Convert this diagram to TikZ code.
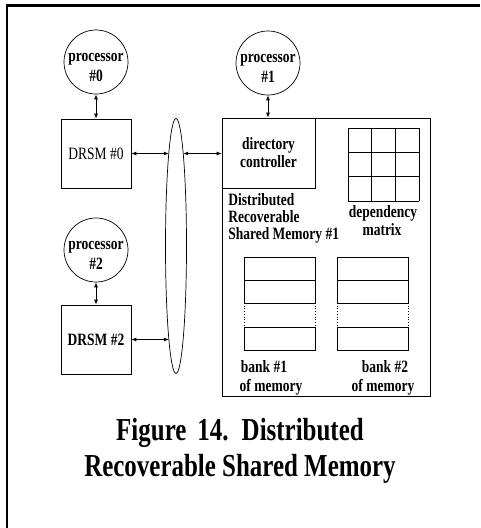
\documentclass[tikz,border=0pt]{standalone}
\usepackage{fontspec}
\setmainfont{Liberation Serif}[FakeStretch=0.78]
\usetikzlibrary{arrows.meta,shapes.geometric,intersections}
\newcommand\diagfont{\fontsize{17.3}{18}\selectfont\bfseries}
\newcommand\plainfont{\fontsize{17.3}{18}\selectfont\mdseries}
\newcommand\capfont{\fontsize{32}{36}\selectfont\bfseries}
\begin{document}
\begin{tikzpicture}[x=1pt,y=-1pt,line width=0.7pt,
  txt/.style={inner sep=0pt,font=\diagfont},
  proc/.style={circle,draw,minimum size=64pt,inner sep=0pt},
  blk/.style={rectangle,draw,inner sep=0pt,font=\diagfont},
  captxt/.style={inner sep=0pt,font=\capfont,anchor=base},
  link/.style={{Latex[length=5pt,width=4pt]}-{Latex[length=5pt,width=4pt]},line width=0.8pt}]

\useasboundingbox (0,0) rectangle (480,528);

% frame rules
\draw[line width=3pt] (6.3,5.5) -- (480,5.5);
\draw[line width=1.8pt] (7.2,4) -- (7.2,528);

% processors
\node[proc] (p0) at (96,62) {};
\node[proc] (p1) at (268,63) {};
\node[proc] (p2) at (96,250) {};
\node[txt,align=center] (p0t) at (96,67) {processor\\[2pt]\#0};
\node[txt,align=center] (p1t) at (268,68) {processor\\[2pt]\#1};
\node[txt,align=center] (p2t) at (96,255) {processor\\[2pt]\#2};

% DRSM units
\node[blk,minimum width=70pt,minimum height=69pt,font=\plainfont] (drsm0) at (96,153.5) {DRSM \#0};
\node[blk,minimum width=70pt,minimum height=69pt] (drsm2) at (96,339.5) {DRSM \#2};

% interconnect
\node[ellipse,draw,minimum width=21pt,minimum height=255pt,inner sep=0pt,name path=busp] (bus) at (176,246) {};

% DRSM #1 in detail
\node[blk,minimum width=208pt,minimum height=278pt] (mem1) at (326,257) {};
\node[blk,minimum width=93pt,minimum height=70pt,align=center] (dir) at (268.5,153) {directory\\controller};

% dependency matrix
\foreach \i in {0,1,2,3} {
  \draw ({348+\i*23.667},128) -- ++(0,73);
  \draw (348,{128+\i*24.333}) -- ++(71,0);
}
\node[txt,anchor=base] (m1) at (383,217) {dependency};
\node[txt,anchor=base] (m2) at (382,235) {matrix};

\node[txt,anchor=base west] (d1) at (228,205) {Distributed};
\node[txt,anchor=base west] (d2) at (228,222) {Recoverable};
\node[txt,anchor=base west] (d3) at (228,239) {Shared Memory \#1};

% memory banks
\foreach \x in {244,337} {
  \draw (\x,257) rectangle ++(71,46);
  \draw (\x,280) -- ++(71,0);
  \draw[dotted] (\x,303) -- ++(0,24) ({\x+71},303) -- ++(0,24);
  \draw (\x,327) rectangle ++(71,23);
}
\node[txt,anchor=base] (bk1a) at (264,372) {bank \#1};
\node[txt,anchor=base] (bk1b) at (271,391) {of memory};
\node[txt,anchor=base] (bk2a) at (385,372) {bank \#2};
\node[txt,anchor=base] (bk2b) at (383,391) {of memory};

% connectors
\draw[link] (p0) -- (drsm0);
\draw[link] (p2) -- (drsm2);
\draw[link] (p1.south) -- (p1.south |- mem1.north);

\path[name path=row0] (drsm0.east) -- (mem1.west |- drsm0.east);
\path[name intersections={of=busp and row0,by={b0l,b0r},sort by=row0}];
\draw[link] (drsm0.east) -- (b0l);
\draw[link] (b0r) -- (mem1.west |- drsm0.east);

\path[name path=row2] (drsm2.east) -- (mem1.west |- drsm2.east);
\path[name intersections={of=busp and row2,by={b2l,b2r},sort by=row2}];
\draw[link] (drsm2.east) -- (b2l);

% caption
\node[captxt] (cap1) at (240,440) {\spaceskip=11pt plus 2pt Figure 14. Distributed};
\node[captxt] (cap2) at (240,476) {Recoverable Shared Memory};
\end{tikzpicture}
\end{document}
